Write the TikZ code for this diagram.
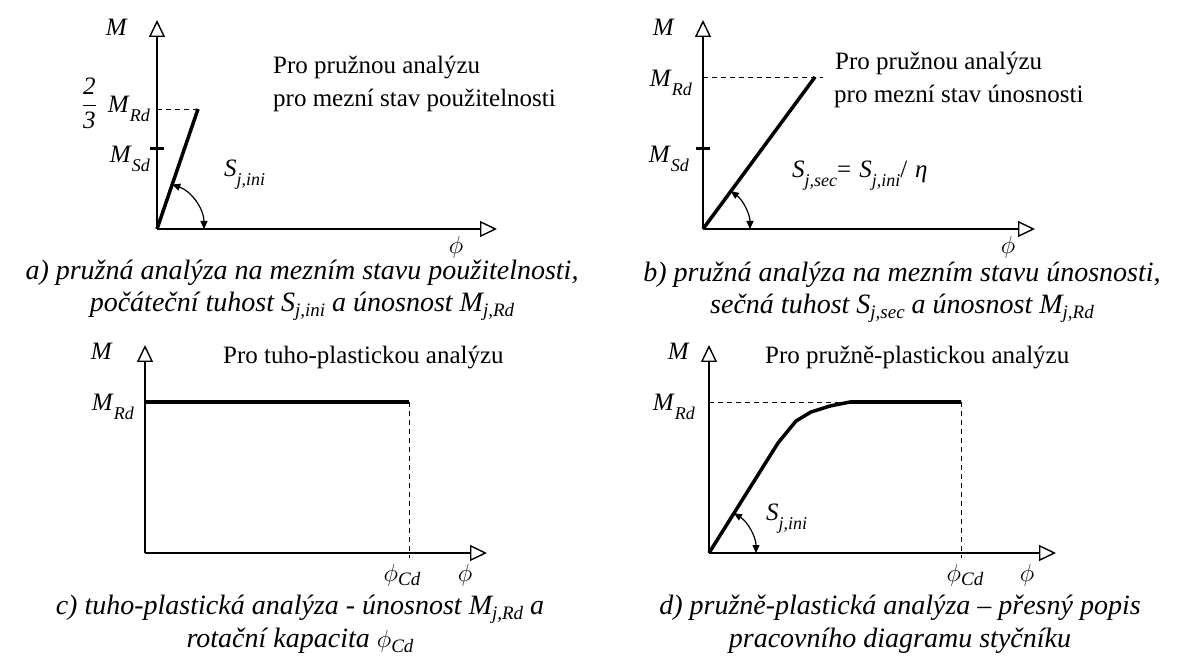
\documentclass[tikz,border=0pt]{standalone}
\usepackage{fontspec}
\setmainfont{Liberation Serif}
\usetikzlibrary{arrows.meta}
\newcommand{\lab}[2]{\textit{#1}\raisebox{-9pt}{\fontsize{18}{18}\selectfont\textit{#2}}}
\newcommand{\plab}[1]{$\phi$\raisebox{-4pt}{\fontsize{19}{19}\selectfont\textit{#1}}}
\newcommand{\csub}[2]{\textit{#1}\raisebox{-5pt}{\fontsize{19}{19}\selectfont\textit{#2}}}
\begin{document}
\begin{tikzpicture}[x=1pt,y=-1pt,
 axis/.style={line width=1.4pt,-{Triangle[open,length=17pt,width=16pt,fill=white]}},
 curve/.style={line width=3.5pt,line join=round},
 tickmark/.style={line width=3pt},
 guide/.style={line width=0.9pt,dash pattern=on 5pt off 4pt},
 angarrow/.style={line width=1.2pt,{Triangle[length=8pt,width=7pt]}-{Triangle[length=8pt,width=7pt]}},
 lbl/.style={inner sep=0pt,font=\fontsize{25}{30}\selectfont},
 captext/.style={inner sep=0pt,font=\fontsize{28}{33}\selectfont\itshape},
]
\useasboundingbox (0,0) rectangle (1184,660);

% ---------- panel a ----------
\coordinate (aO) at (157,229);
\coordinate (aYt) at (157,20);
\coordinate (aXt) at (497,229);
\coordinate (aP) at (198,109);
\coordinate (aRd) at (157,109);
\coordinate (aSd) at (157,149);
\draw[axis] (aO) -- (aYt);
\draw[axis] (aO) -- (aXt);
\draw[guide] (aRd) -- (aP);
\draw[curve] (aO) -- (aP);
\draw[tickmark] ([xshift=-7pt]aSd) -- ([xshift=7pt]aSd);
\draw[angarrow] ([shift={(-71.1:47)}]aO) arc[start angle=-71.1,end angle=0,radius=47];
\node[lbl,anchor=base east] (aM) at (128,36) {\textit{M}};
\node[lbl,anchor=east] (a23) at (97,103) {$\displaystyle\frac{\textit{2}}{\textit{3}}$};
\node[lbl,anchor=base east] (aMRd) at (150,113) {\lab{M}{Rd}};
\node[lbl,anchor=base east] (aMSd) at (150,163) {\lab{M}{Sd}};
\node[lbl,anchor=base west] (aS) at (224,177) {\lab{S}{j,ini}};
\node[lbl,anchor=base west] (aT1) at (273,74) {Pro pružnou analýzu};
\node[lbl,anchor=base west] (aT2) at (273,107) {pro mezní stav použitelnosti};
\node[lbl,anchor=base] (aPhi) at (456,254) {$\phi$};
\node[captext,anchor=base] (aC1) at (302,280) {a) pružná analýza na mezním stavu použitelnosti,};
\node[captext,anchor=base] (aC2) at (302,312) {počáteční tuhost \csub{S}{j,ini} a únosnost \csub{M}{j,Rd}};

% ---------- panel b ----------
\coordinate (bO) at (703,229);
\coordinate (bYt) at (703,20);
\coordinate (bXt) at (1035,229);
\coordinate (bP) at (815,77);
\coordinate (bRd) at (703,77);
\coordinate (bDe) at (823,77);
\coordinate (bSd) at (703,149);
\draw[axis] (bO) -- (bYt);
\draw[axis] (bO) -- (bXt);
\draw[guide] (bRd) -- (bDe);
\draw[curve] (bO) -- (bP);
\draw[tickmark] ([xshift=-7pt]bSd) -- ([xshift=7pt]bSd);
\draw[angarrow] ([shift={(-53.6:47)}]bO) arc[start angle=-53.6,end angle=0,radius=47];
\node[lbl,anchor=base east] (bM) at (675,36) {\textit{M}};
\node[lbl,anchor=base east] (bMRd) at (692,87) {\lab{M}{Rd}};
\node[lbl,anchor=base east] (bMSd) at (689,163) {\lab{M}{Sd}};
\node[lbl,anchor=base west] (bS) at (792,178) {\lab{S}{j,sec}=\hspace{8pt}\lab{S}{j,ini}/\hspace{8pt}\textit{η}};
\node[lbl,anchor=base west] (bT1) at (835,70) {Pro pružnou analýzu};
\node[lbl,anchor=base west] (bT2) at (834,103) {pro mezní stav únosnosti};
\node[lbl,anchor=base] (bPhi) at (1008,254) {$\phi$};
\node[captext,anchor=base] (bC1) at (902,282) {b) pružná analýza na mezním stavu únosnosti,};
\node[captext,anchor=base] (bC2) at (902,314) {sečná tuhost \csub{S}{j,sec} a únosnost \csub{M}{j,Rd}};

% ---------- panel c ----------
\coordinate (cO) at (145,553);
\coordinate (cYt) at (145,345);
\coordinate (cXt) at (487,553);
\coordinate (cL) at (145,402);
\coordinate (cP) at (409,402);
\coordinate (cD) at (409,558);
\draw[axis] (cO) -- (cYt);
\draw[axis] (cO) -- (cXt);
\draw[guide] (cP) -- (cD);
\draw[curve] (cL) -- (cP);
\node[lbl,anchor=base east] (cM) at (113,360) {\textit{M}};
\node[lbl,anchor=base east] (cMRd) at (134,410) {\lab{M}{Rd}};
\node[lbl,anchor=base west] (cT) at (223,363) {Pro tuho-plastickou analýzu};
\node[lbl,anchor=base] (cPhiCd) at (402,581) {\plab{Cd}};
\node[lbl,anchor=base] (cPhi) at (465,581) {$\phi$};
\node[captext,anchor=base] (cC1) at (300,614) {c) tuho-plastická analýza - únosnost \csub{M}{j,Rd} a};
\node[captext,anchor=base] (cC2) at (300,647) {rotační kapacita \csub{$\phi$}{Cd}};

% ---------- panel d ----------
\coordinate (dO) at (709,553);
\coordinate (dYt) at (709,345);
\coordinate (dXt) at (1056,553);
\coordinate (dRd) at (709,402);
\coordinate (dK) at (850,402);
\coordinate (dE) at (961,402);
\coordinate (dD) at (961,558);
\draw[axis] (dO) -- (dYt);
\draw[axis] (dO) -- (dXt);
\draw[guide] (dRd) -- (dK);
\draw[guide] (dE) -- (dD);
\draw[curve] (dO) -- (778,443) -- (796,421) -- (811,412) -- (830,406) -- (dK) -- (dE);
\draw[angarrow] ([shift={(-57.9:47)}]dO) arc[start angle=-57.9,end angle=0,radius=47];
\node[lbl,anchor=base east] (dM) at (690,360) {\textit{M}};
\node[lbl,anchor=base east] (dMRd) at (695,410) {\lab{M}{Rd}};
\node[lbl,anchor=base west] (dT) at (765,363) {Pro pružně-plastickou analýzu};
\node[lbl,anchor=base west] (dS) at (766,520) {\lab{S}{j,ini}};
\node[lbl,anchor=base] (dPhiCd) at (965,581) {\plab{Cd}};
\node[lbl,anchor=base] (dPhi) at (1027,581) {$\phi$};
\node[captext,anchor=base] (dC1) at (900,614) {d) pružně-plastická analýza – přesný popis};
\node[captext,anchor=base] (dC2) at (900,647) {pracovního diagramu styčníku};
\end{tikzpicture}
\end{document}
